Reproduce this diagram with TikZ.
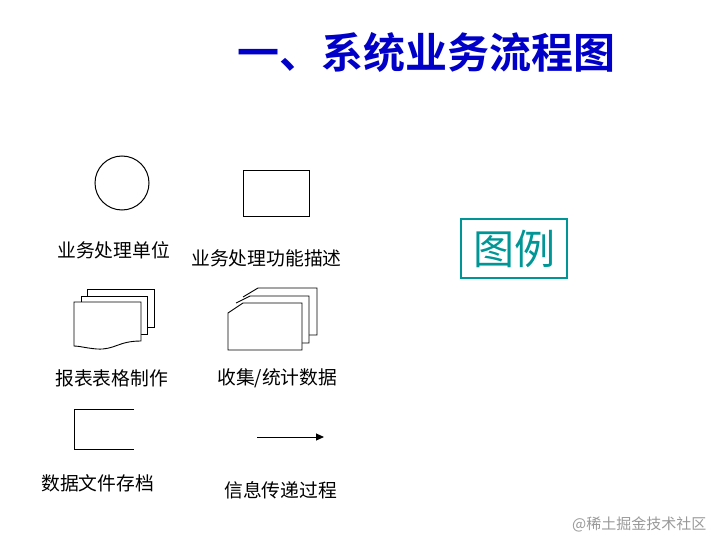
\documentclass[tikz,border=0pt]{standalone}
\usepackage{fontspec}
\newfontfamily\cjk{Noto Sans CJK SC}
\newfontfamily\cjkb{Noto Sans CJK SC Bold}
\usetikzlibrary{arrows.meta}
\definecolor{titleblue}{RGB}{0,0,200}
\definecolor{legteal}{RGB}{0,150,150}
\tikzset{
  sym/.style={draw=black, line width=1pt, fill=white},
  lbl/.style={font=\cjk\fontsize{18.8}{18.8}\selectfont, inner sep=0pt, anchor=west},
}
\begin{document}
\begin{tikzpicture}[x=1pt,y=-1pt]
\useasboundingbox (0,0) rectangle (711,540);
% title
\node[font=\cjkb\fontsize{42}{42}\selectfont, text=titleblue, inner sep=0pt, anchor=west] (title) at (237,52) {一、系统业务流程图};
% legend box
\node[draw=legteal, line width=1.2pt, text=legteal, font=\cjk\fontsize{41}{41}\selectfont, minimum width=106pt, minimum height=59pt, inner sep=0pt] (legend) at (514,248.5) {图例};
% circle
\node[sym, circle, minimum size=54pt, inner sep=0pt] (unit) at (122,183) {};
\node[lbl] (unitlbl) at (57,250) {业务处理单位};
% rectangle
\node[sym, rectangle, minimum width=66pt, minimum height=46pt, inner sep=0pt] (func) at (276,193) {};
\node[lbl] (funclbl) at (191,258) {业务处理功能描述};
% multi-document
\draw[sym, line width=0.9pt] (87,289) -- (154,289) -- (154,327) -- (147,327);
\draw[sym, line width=0.9pt] (81,296) -- (147,296) -- (147,334) -- (141,334);
\draw[sym, line width=0.9pt] (74,302) -- (141,302) -- (141,341)
   .. controls (118,341) and (115,350) .. (97,349)
   .. controls (85,348) and (80,346) .. (74,346) -- cycle;
\draw[line width=0.9pt] (87,289) -- (87,296);
\draw[line width=0.9pt] (81,296) -- (81,302);
\node[lbl] (replbl) at (55,378) {报表表格制作};
% card stack
\draw[sym, line width=0.9pt] (243,297) -- (258,288) -- (317,288) -- (317,335) -- (309,335);
\draw[sym, line width=0.9pt] (236,303) -- (250,296) -- (309,296) -- (309,343) -- (302,343);
\draw[sym, line width=0.9pt] (228,313) -- (243,303) -- (302,303) -- (302,350) -- (228,350) -- cycle;
\node[lbl] (cardlbl) at (217,378) {收集/统计数据};
% data store
\coordinate (ds1) at (134,409);
\coordinate (ds2) at (74,409);
\coordinate (ds3) at (74,449);
\coordinate (ds4) at (134,449);
\draw[line width=1pt] (ds1) -- (ds2) -- (ds3) -- (ds4);
\node[lbl] (dslbl) at (41,483) {数据文件存档};
% arrow
\coordinate (a1) at (257,437);
\coordinate (a2) at (324,437);
\draw[line width=1pt, -{Triangle[length=8pt,width=7pt]}] (a1) -- (a2);
\node[lbl] (arrlbl) at (224,490) {信息传递过程};
% watermark
\node[font=\cjk\fontsize{15}{15}\selectfont, text=black!40, inner sep=0pt, anchor=west] (wm) at (572,524) {@稀土掘金技术社区};
\end{tikzpicture}
\end{document}
